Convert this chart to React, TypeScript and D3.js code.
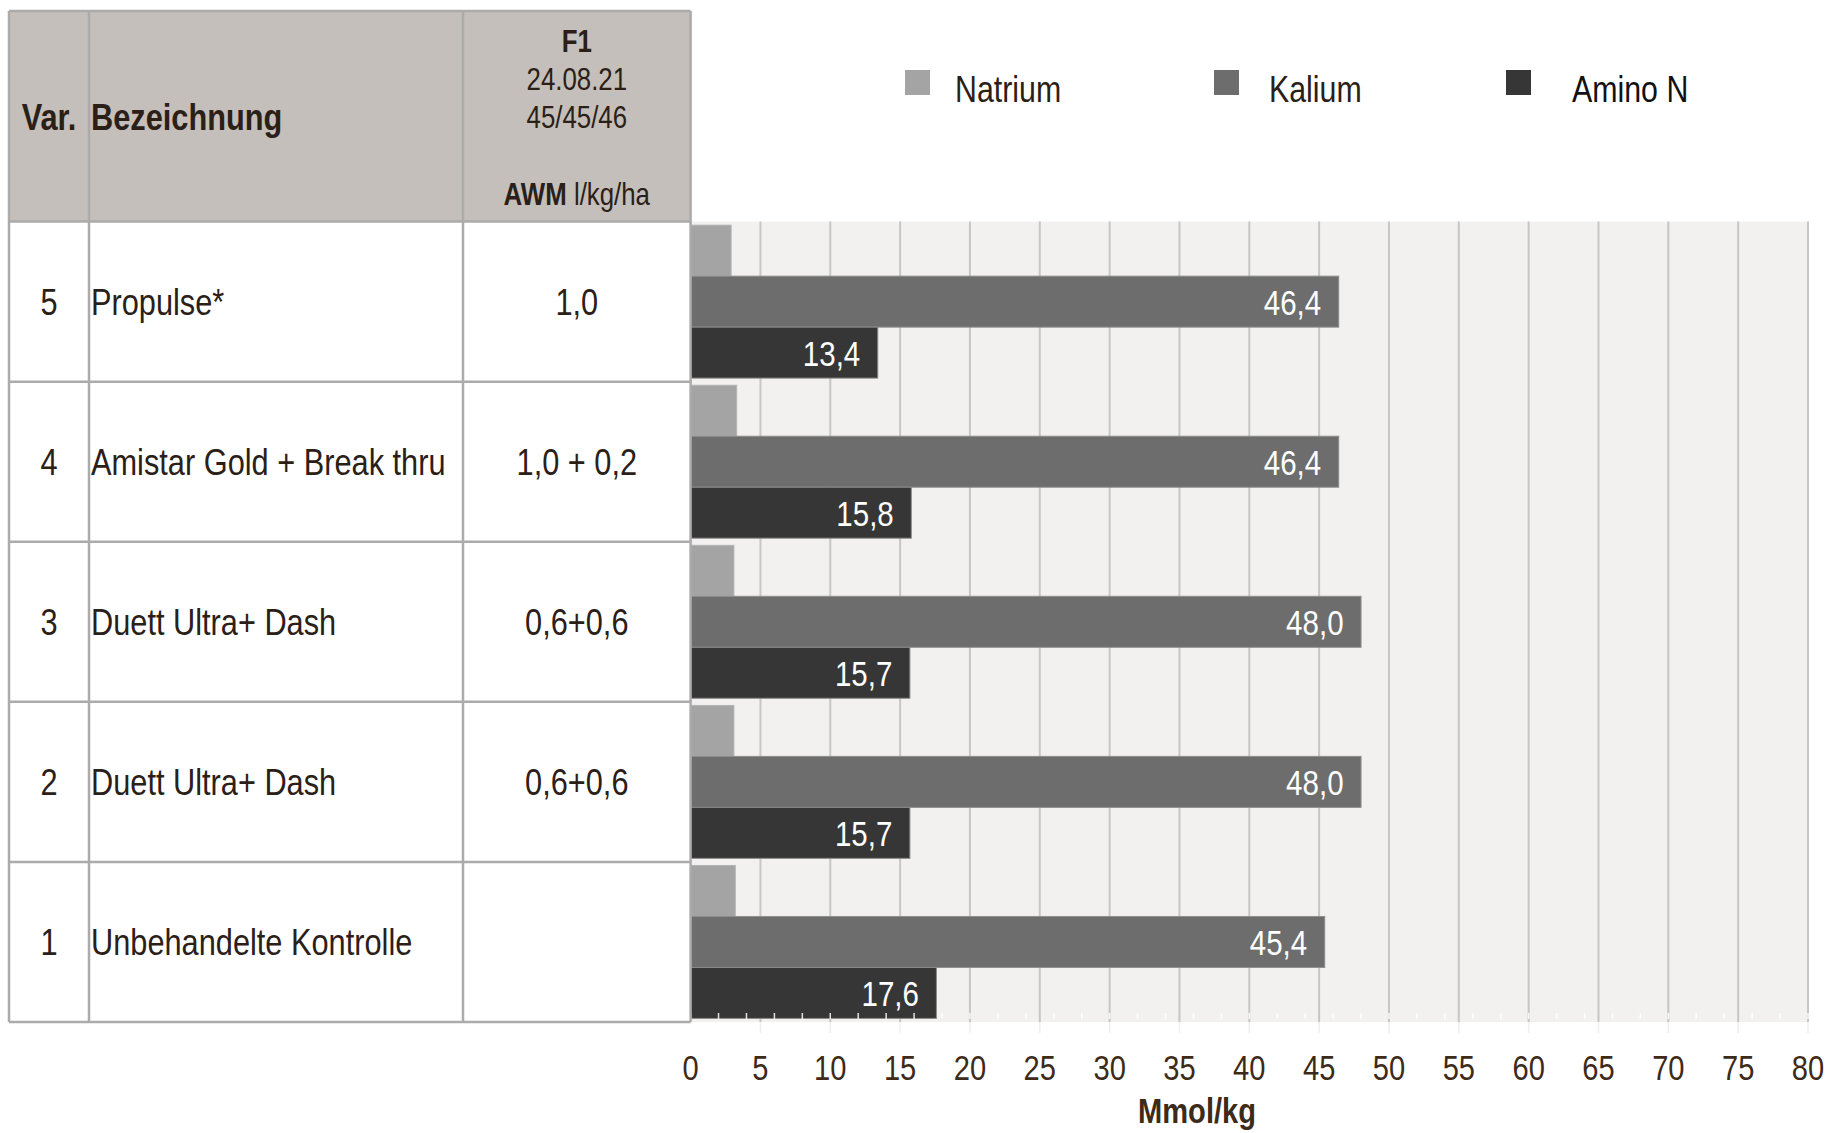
import React from "react";
import * as d3 from "d3";

// ---------- data ----------
const varNumbers = ["5", "4", "3", "2", "1"];
const names = [
  "Propulse*",
  "Amistar Gold + Break thru",
  "Duett Ultra+ Dash",
  "Duett Ultra+ Dash",
  "Unbehandelte Kontrolle",
];
const awm = ["1,0", "1,0 + 0,2", "0,6+0,6", "0,6+0,6", ""];
const seriesNames = ["Natrium", "Kalium", "Amino N"];
const natrium = [2.9, 3.3, 3.1, 3.1, 3.2];
const kalium = [46.4, 46.4, 48.0, 48.0, 45.4];
const aminoN = [13.4, 15.8, 15.7, 15.7, 17.6];
const xTickLabels = [0, 5, 10, 15, 20, 25, 30, 35, 40, 45, 50, 55, 60, 65, 70, 75, 80];
const minorTicks = d3.range(0, 81, 2);
const headerLines = ["F1", "24.08.21", "45/45/46"];

// ---------- style ----------
const W = 1829;
const H = 1133;
const FONT = "'Liberation Sans', Arial, sans-serif";
const NARROW = 0.82;
const TEXT = "#2b2017";
const AXIS_TEXT = "#3d2a18";
const BORDER = "#ababab";
const HEADER_BG = "#c4bfba";
const PLOT_BG = "#f2f1ef";
const GRID = "#c6c6c6";
const colors = ["#a4a4a4", "#6d6d6d", "#363636"];
const strokes = ["#b4b4b4", "#8e8e8e", "#8a8a8a"];

// layout
const colX = [9, 89, 463, 690.6];
const tableTop = 11;
const headerBottom = 221.6;
const plotBottom = 1022;
const plotRight = 1808;
const legendBoxX = [905, 1214, 1506];
const legendTextX = [955, 1269, 1572];

type NTProps = {
  x: number;
  y: number;
  size: number;
  anchor?: "start" | "middle" | "end";
  weight?: string;
  fill?: string;
  dy?: string;
  children: React.ReactNode;
};

function NText({ x, y, size, anchor = "start", weight = "normal", fill = TEXT, dy, children }: NTProps) {
  return (
    <text
      transform={`translate(${x},${y}) scale(${NARROW},1)`}
      textAnchor={anchor}
      fontSize={size}
      fontWeight={weight}
      fill={fill}
      dy={dy}
    >
      {children}
    </text>
  );
}

export default function App() {
  const x = d3.scaleLinear().domain([0, 80]).range([colX[3], plotRight]);
  const yRow = d3.scaleBand<string>().domain(varNumbers).range([headerBottom, plotBottom]).padding(0);
  const yInner = d3
    .scaleBand<string>()
    .domain(seriesNames)
    .range([0, yRow.bandwidth()])
    .paddingInner(0)
    .paddingOuter(0.07);
  const seriesValues = [natrium, kalium, aminoN];

  const rowBounds = varNumbers.map((v) => yRow(v)!);
  const midHeader = (tableTop + headerBottom) / 2;

  return (
    <svg
      width={W}
      height={H}
      viewBox={`0 0 ${W} ${H}`}
      style={{ position: "absolute", left: 0, top: 0, display: "block", background: "#fff" }}
      fontFamily={FONT}
    >
      {/* plot background */}
      <rect x={colX[3]} y={headerBottom} width={plotRight - colX[3]} height={plotBottom - headerBottom} fill={PLOT_BG} />
      {/* gridlines */}
      {xTickLabels.slice(1).map((t) => (
        <g key={"g" + t}>
          <line x1={x(t)} x2={x(t)} y1={headerBottom} y2={plotBottom} stroke={GRID} strokeWidth={2} />
          <line x1={x(t)} x2={x(t)} y1={plotBottom} y2={plotBottom + 11} stroke="#efefef" strokeWidth={1.5} />
        </g>
      ))}

      {/* header background */}
      <rect x={colX[0]} y={tableTop} width={colX[3] - colX[0]} height={headerBottom - tableTop} fill={HEADER_BG} />

      {/* bars */}
      {varNumbers.map((v, i) => (
        <g key={"row" + v} transform={`translate(0,${yRow(v)})`}>
          {seriesNames.map((s, j) => {
            const val = seriesValues[j][i];
            const y0 = yInner(s)!;
            const bh = yInner.bandwidth();
            return (
              <g key={s}>
                <rect
                  x={x(0)}
                  y={y0}
                  width={x(val) - x(0)}
                  height={bh}
                  fill={colors[j]}
                  stroke={strokes[j]}
                  strokeWidth={1}
                />
                {j > 0 && (
                  <NText x={x(val) - 17.5} y={y0 + bh / 2} dy="0.36em" anchor="end" fill="#ffffff" size={36}>
                    {val.toFixed(1).replace(".", ",")}
                  </NText>
                )}
              </g>
            );
          })}
        </g>
      ))}

      {/* minor ticks at bottom of plot */}
      {minorTicks.map((t) => (
        <line
          key={"mt" + t}
          x1={x(t)}
          x2={x(t)}
          y1={plotBottom - 9}
          y2={plotBottom - 3}
          stroke="#ffffff"
          strokeOpacity={0.85}
          strokeWidth={1.5}
        />
      ))}

      {/* table borders */}
      <g stroke={BORDER} strokeWidth={2.5} fill="none">
        {colX.map((cx, k) => (
          <line key={"v" + k} x1={cx} x2={cx} y1={tableTop} y2={plotBottom} />
        ))}
        <line x1={colX[0]} x2={colX[3]} y1={tableTop} y2={tableTop} />
        <line x1={colX[0]} x2={colX[3]} y1={headerBottom} y2={headerBottom} />
        {rowBounds.map((ry, k) =>
          k === 0 ? null : <line key={"h" + k} x1={colX[0]} x2={colX[3]} y1={ry} y2={ry} />
        )}
        <line x1={colX[0]} x2={colX[3]} y1={plotBottom} y2={plotBottom} />
      </g>

      {/* header text */}
      <NText x={(colX[0] + colX[1]) / 2} y={midHeader} dy="0.36em" anchor="middle" size={37.5} weight="bold">
        Var.
      </NText>
      <NText x={colX[1] + 2} y={midHeader} dy="0.36em" size={37.5} weight="bold">
        Bezeichnung
      </NText>
      {headerLines.map((l, k) => (
        <NText
          key={l}
          x={(colX[2] + colX[3]) / 2}
          y={52 + k * 38}
          anchor="middle"
          size={31.5}
          weight={k === 0 ? "bold" : "normal"}
        >
          {l}
        </NText>
      ))}
      <NText x={(colX[2] + colX[3]) / 2} y={205} anchor="middle" size={31.5}>
        <tspan fontWeight="bold">AWM</tspan> l/kg/ha
      </NText>

      {/* row text */}
      {varNumbers.map((v, i) => {
        const cy = yRow(v)! + yRow.bandwidth() / 2;
        return (
          <g key={"t" + v}>
            <NText x={(colX[0] + colX[1]) / 2} y={cy} dy="0.36em" anchor="middle" size={37.5}>
              {v}
            </NText>
            <NText x={colX[1] + 2} y={cy} dy="0.36em" size={37.5}>
              {names[i]}
            </NText>
            <NText x={(colX[2] + colX[3]) / 2} y={cy} dy="0.36em" anchor="middle" size={37.5}>
              {awm[i]}
            </NText>
          </g>
        );
      })}

      {/* legend */}
      {seriesNames.map((s, j) => (
        <g key={"lg" + s}>
          <rect x={legendBoxX[j]} y={70} width={25} height={25} fill={colors[j]} />
          <NText x={legendTextX[j]} y={101.5} size={37} fill={j === 2 ? "#111" : TEXT}>
            {s}
          </NText>
        </g>
      ))}

      {/* x axis tick labels */}
      {xTickLabels.map((t) => (
        <NText key={"xl" + t} x={x(t)} y={1080} anchor="middle" size={35.5} fill={AXIS_TEXT}>
          {t}
        </NText>
      ))}
      <NText x={1197} y={1123} anchor="middle" size={35.5} weight="bold" fill={AXIS_TEXT}>
        Mmol/kg
      </NText>
    </svg>
  );
}
